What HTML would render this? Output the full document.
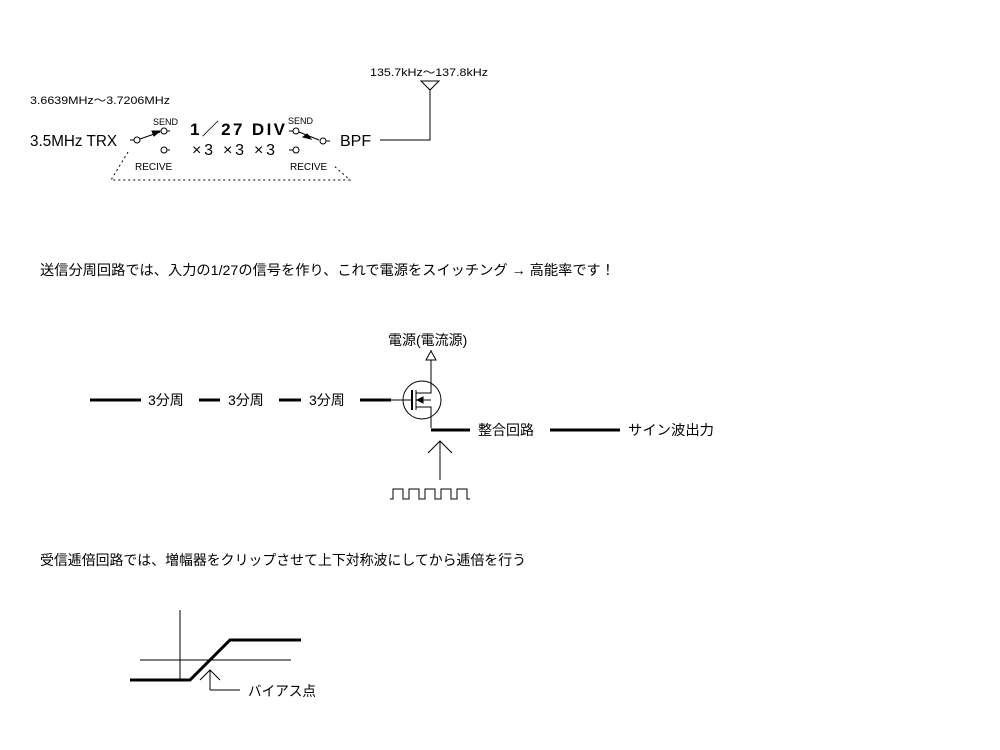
<!DOCTYPE html>
<html><head><meta charset="utf-8"><style>
html,body{margin:0;padding:0;background:#fff;}
svg{display:block;}
text{font-family:"Liberation Sans","Noto Sans CJK JP",sans-serif;fill:#000;}
</style></head><body>
<svg width="1000" height="750" viewBox="0 0 1000 750" xmlns="http://www.w3.org/2000/svg">
<g stroke="#000" fill="none" stroke-width="1">
<circle cx="137" cy="140" r="3"/>
<line x1="140" y1="139" x2="160" y2="132"/>
<polygon points="160,131 152,131 154,136" fill="#000"/>
<circle cx="164" cy="131" r="3"/><line x1="167" y1="131" x2="170" y2="131"/>
<circle cx="164" cy="150" r="3"/><line x1="167" y1="150" x2="170" y2="150"/>
<line x1="130" y1="140" x2="134" y2="140"/>
<circle cx="296" cy="131" r="3"/><line x1="289" y1="131" x2="293" y2="131"/>
<line x1="299" y1="132" x2="319" y2="140"/>
<polygon points="307,134 303,137 311,139" fill="#000"/>
<circle cx="323" cy="141" r="3"/><line x1="326" y1="141" x2="330" y2="141"/>
<circle cx="296" cy="150" r="3"/><line x1="289" y1="150" x2="293" y2="150"/>
<polyline points="380,140 430,140 430,89"/>
<polygon points="421,81 439,81 430,90"/>
<g stroke-dasharray="2,3">
<polyline points="128,152 111,180 350,180 333,165"/>
</g>
<g stroke-width="3">
<line x1="90" y1="400" x2="141" y2="400"/>
<line x1="199" y1="400" x2="220" y2="400"/>
<line x1="279" y1="400" x2="301" y2="400"/>
<line x1="360" y1="400" x2="391" y2="400"/>
<line x1="431" y1="430" x2="470" y2="430"/>
<line x1="550" y1="430" x2="620" y2="430"/>
</g>
<line x1="391" y1="400" x2="411" y2="400"/>
<circle cx="422" cy="400" r="19"/>
<line x1="412" y1="390" x2="412" y2="410" stroke-width="2"/>
<line x1="416" y1="390" x2="416" y2="410"/>
<polyline points="416,393 431,393 431,350"/>
<polyline points="416,407 431,407 431,428"/>
<line x1="416" y1="400" x2="431" y2="400"/>
<polygon points="417,400 423,397 423,403" fill="#000"/>
<polygon points="426,360 436,360 431,351" fill="#fff"/>
<line x1="440" y1="480" x2="440" y2="441"/>
<polyline points="428,453 440,441 452,453"/>
<polyline points="390,499 393,499 393,489 403,489 403,499 409,499 409,489 419,489 419,499 425,499 425,489 435,489 435,499 441,499 441,489 451,489 451,499 457,499 457,489 467,489 467,499 470,499"/>
<line x1="180" y1="610" x2="180" y2="680"/>
<line x1="140" y1="660" x2="291" y2="660"/>
<polyline points="130,680 190,680 230,640 301,640" stroke-width="3"/>
<line x1="210" y1="670" x2="210" y2="690"/>
<line x1="210" y1="690" x2="240" y2="690"/>
<polyline points="200,680 210,670 220,680"/>
</g>
<text x="30" y="104" font-size="11" textLength="140" lengthAdjust="spacingAndGlyphs">3.6639MHz～3.7206MHz</text>
<text x="30" y="146" font-size="16" textLength="87" lengthAdjust="spacingAndGlyphs">3.5MHz TRX</text>
<text x="153" y="125" font-size="9" font-family="Liberation Mono">SEND</text>
<text x="135" y="170" font-size="10" font-family="Liberation Mono">RECIVE</text>
<text x="190" y="135" font-size="17" font-weight="bold" textLength="95" lengthAdjust="spacing">1／27 DIV</text>
<text x="192" y="155" font-size="16" textLength="83" lengthAdjust="spacing">×3 ×3 ×3</text>
<text x="288" y="124" font-size="9" font-family="Liberation Mono">SEND</text>
<text x="290" y="170" font-size="10" font-family="Liberation Mono">RECIVE</text>
<text x="340" y="146" font-size="16">BPF</text>
<text x="370" y="76" font-size="11" textLength="118" lengthAdjust="spacingAndGlyphs">135.7kHz～137.8kHz</text>
<text x="40" y="275" font-size="14" textLength="575" lengthAdjust="spacingAndGlyphs">送信分周回路では、入力の1/27の信号を作り、これで電源をスイッチング →  高能率です！</text>
<text x="388" y="345" font-size="14">電源(電流源)</text>
<text x="148" y="405" font-size="14">3分周</text>
<text x="228" y="405" font-size="14">3分周</text>
<text x="309" y="405" font-size="14">3分周</text>
<text x="478" y="435" font-size="14">整合回路</text>
<text x="628" y="435" font-size="14" textLength="86" lengthAdjust="spacingAndGlyphs">サイン波出力</text>
<text x="40" y="565" font-size="14" textLength="486" lengthAdjust="spacingAndGlyphs">受信逓倍回路では、増幅器をクリップさせて上下対称波にしてから逓倍を行う</text>
<text x="248" y="696" font-size="14" textLength="68" lengthAdjust="spacingAndGlyphs">バイアス点</text>
</svg>
</body></html>
